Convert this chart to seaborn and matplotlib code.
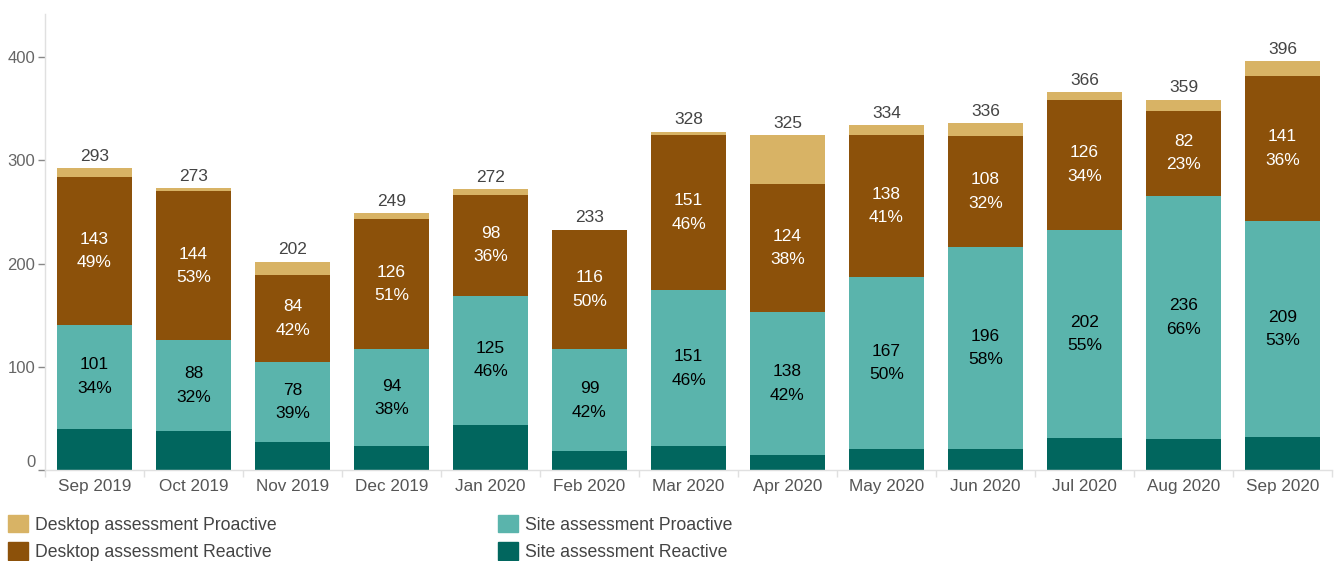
import numpy as np
import pandas as pd
import matplotlib
matplotlib.use('Agg')
import matplotlib.pyplot as plt
import seaborn as sns
from matplotlib.patches import Patch

# --------------------------
# Data
# --------------------------
months = ['Sep 2019', 'Oct 2019', 'Nov 2019', 'Dec 2019', 'Jan 2020', 'Feb 2020',
          'Mar 2020', 'Apr 2020', 'May 2020', 'Jun 2020', 'Jul 2020', 'Aug 2020', 'Sep 2020']
site_reactive = [40, 38, 27, 23, 44, 18, 23, 15, 20, 20, 31, 30, 32]
site_proactive = [101, 88, 78, 94, 125, 99, 151, 138, 167, 196, 202, 236, 209]
desk_reactive = [143, 144, 84, 126, 98, 116, 151, 124, 138, 108, 126, 82, 141]
desk_proactive = [9, 3, 13, 6, 5, 0, 3, 48, 9, 12, 7, 11, 14]
totals = [293, 273, 202, 249, 272, 233, 328, 325, 334, 336, 366, 359, 396]
site_pro_pct = [34, 32, 39, 38, 46, 42, 46, 42, 50, 58, 55, 66, 53]
desk_re_pct = [49, 53, 42, 51, 36, 50, 46, 38, 41, 32, 34, 23, 36]

series_names = ['Desktop assessment Proactive', 'Desktop assessment Reactive',
                'Site assessment Proactive', 'Site assessment Reactive']
colors = {'Desktop assessment Proactive': '#d8b365',
          'Desktop assessment Reactive': '#8c510a',
          'Site assessment Proactive': '#5ab4ac',
          'Site assessment Reactive': '#01665e'}

df = pd.DataFrame({'month': months, 'sr': site_reactive, 'sp': site_proactive,
                   'dr': desk_reactive, 'dp': desk_proactive})
df['c1'] = df['sr']
df['c2'] = df['c1'] + df['sp']
df['c3'] = df['c2'] + df['dr']
df['c4'] = df['c3'] + df['dp']

sns.set_style('white')
plt.rcParams['font.family'] = ['Liberation Sans', 'DejaVu Sans']

fig = plt.figure(figsize=(13.34, 5.61), dpi=100)
ax = fig.add_axes([45 / 1334, 91 / 561, (1332 - 45) / 1334, (561 - 91 - 14) / 561])

# stacked bars: draw cumulative heights from tallest to shortest
for col, name in [('c4', series_names[0]), ('c3', series_names[1]),
                  ('c2', series_names[2]), ('c1', series_names[3])]:
    sns.barplot(data=df, x='month', y=col, color=colors[name], width=0.76,
                saturation=1, linewidth=0, ax=ax)

# segment labels
for i in range(len(months)):
    mid_sp = df['c1'][i] + site_proactive[i] / 2
    ax.text(i, mid_sp, f'{site_proactive[i]}\n{site_pro_pct[i]}%', ha='center', va='center',
            fontsize=12.5, color='black', linespacing=1.7)
    mid_dr = df['c2'][i] + desk_reactive[i] / 2
    ax.text(i, mid_dr, f'{desk_reactive[i]}\n{desk_re_pct[i]}%', ha='center', va='center',
            fontsize=12.5, color='white', linespacing=1.7)
    ax.annotate(str(totals[i]), (i, totals[i]), xytext=(0, 3), textcoords='offset points',
                ha='center', va='bottom', fontsize=12.5, color='#444444')

ax.set_xlim(-0.5, len(months) - 0.5)
ax.set_ylim(0, 442)
ax.set_yticks([0, 100, 200, 300, 400])
ax.set_xlabel('')
ax.set_ylabel('')

for side in ['top', 'right']:
    ax.spines[side].set_visible(False)
for side in ['left', 'bottom']:
    ax.spines[side].set_color('#e0e0e0')
    ax.spines[side].set_linewidth(1)

ax.tick_params(axis='y', left=True, length=5, width=1, color='#888888', labelsize=12,
               labelcolor='#666666', pad=2)
ax.tick_params(axis='x', which='major', bottom=False, labelsize=12.3, labelcolor='#555555', pad=3)
ax.set_xticks(np.arange(-0.5, len(months), 1), minor=True)
ax.tick_params(axis='x', which='minor', bottom=True, length=5, width=1, color='#e0e0e0')
ylabels = ax.get_yticklabels()
ylabels[0].set_verticalalignment('bottom')

# legend in two columns under the chart
h_left = [Patch(color=colors[n]) for n in series_names[:2]]
h_right = [Patch(color=colors[n]) for n in series_names[2:]]
leg_kw = dict(frameon=False, fontsize=12.7, handlelength=1.14, handleheight=1.14,
              handletextpad=0.4, labelspacing=0.5, labelcolor='#444444',
              borderaxespad=0, borderpad=0)
fig.legend(h_left, series_names[:2], loc='upper left',
           bbox_to_anchor=(8 / 1334, 1 - 515 / 561), **leg_kw)
fig.legend(h_right, series_names[2:], loc='upper left',
           bbox_to_anchor=(498 / 1334, 1 - 515 / 561), **leg_kw)

plt.savefig('out.png', dpi=100)
